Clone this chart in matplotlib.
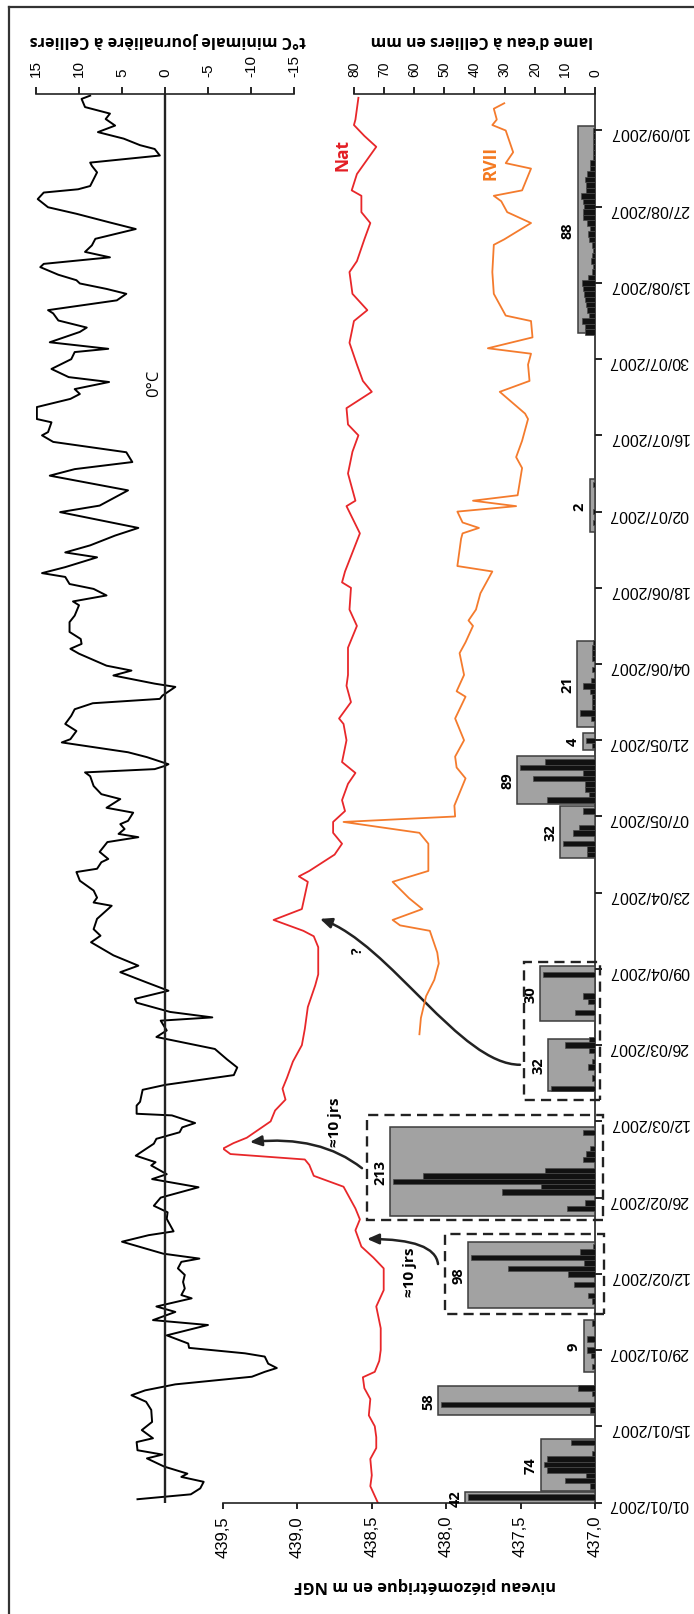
import datetime as dt
import matplotlib
matplotlib.use('Agg')
import matplotlib.pyplot as plt
from matplotlib.patches import Rectangle, FancyArrowPatch
from matplotlib.path import Path
from matplotlib.lines import Line2D

plt.rcParams['font.family'] = ['Liberation Sans', 'DejaVu Sans']
plt.rcParams['axes.unicode_minus'] = False

# ---- data (days counted from 01/01/2007) ----
date_labels = ['01/01/2007', '15/01/2007', '29/01/2007', '12/02/2007', '26/02/2007',
               '12/03/2007', '26/03/2007', '09/04/2007', '23/04/2007', '07/05/2007',
               '21/05/2007', '04/06/2007', '18/06/2007', '02/07/2007', '16/07/2007',
               '30/07/2007', '13/08/2007', '27/08/2007', '10/09/2007']

temp_day = [0.6, 1.5, 2.6, 3.8, 4.7, 5.3, 6.6, 8.1, 8.8, 9.6, 11.1, 11.8, 13.3, 14.8, 17, 18.5,
            19.7, 20.6, 21.7, 23.1, 24, 24.7, 25.5, 26.8, 27.4, 28.4, 29.2, 30.7, 32.6, 33.5,
            35, 36, 37.5, 38.1, 39.3, 40.5, 41.8, 43, 44.2, 44.8, 45.7, 47.9, 49.1, 49.8,
            52.1, 53.3, 54.5, 56.0, 57.9, 59.4, 60.3, 61.9, 62.5, 63.7, 65.9, 66.8, 68.0,
            68.9, 69.7, 71.1, 71.4, 72.9, 73.6, 75.8, 76.7, 78.5, 79.9, 81.4, 83.3, 85.5,
            86.7, 88.5, 89.1, 90.1, 91.8, 92.5, 94.0, 95.5, 97.4, 98.6, 100.5, 102.9, 104.1,
            105.3, 107.2, 109.6, 110.2, 111.1, 112.4, 114.2, 115.8, 116.4, 117.6, 118.2,
            119.5, 121.3, 122.2, 122.8, 123.7, 124.6, 125.2, 126.7, 127.6, 129.2, 130.1,
            131.6, 133.4, 134.1, 134.7, 135.3, 135.6, 136.9, 137.8, 139.6, 140.2, 141.7,
            143.0, 144.5, 145.7, 146.8, 147.6, 148.2, 149.8, 150.4, 151.9, 152.8, 153.7,
            155.9, 156.8, 157.7, 158.6, 159.9, 161.7, 162.9, 164.8, 165.5, 166.6, 167.8,
            168.7, 170.0, 170.7, 171.8, 173.6, 174.5, 175.8, 177.6, 179.0, 179.8, 181.9,
            183.1, 185.9, 188.6, 189.8, 191.1, 192.9, 194.8, 196.0, 196.6, 198.4, 199.0,
            201.2, 202.7, 203.6, 204.5, 205.8, 206.7, 208.2, 210.0, 211.3, 211.9, 213.1,
            215.0, 215.8, 217.1, 218.4, 219.0, 220.8, 222.0, 222.9, 223.9, 224.5, 225.5,
            226.9, 227.5, 228.7, 229.7, 230.9, 232.1, 233.9, 235.1, 236.7, 237.9, 239.4,
            240.6, 241.2, 241.8, 244.3, 245.5, 246.1, 247.4, 248.6, 249.3, 250.5, 251.7,
            252.9, 254.1, 255.1, 256.3, 257.8, 258.4]
temp_val = [3.2, -3.0, -4.1, -4.5, -1.9, -2.6, 0.1, 2.1, 0.3, 3.2, 3.3, 1.4, 2.7, 1.5, 1.6, 2.2,
            3.9, 2.3, -1.2, -10.1, -11.6, -13.0, -12.0, -11.6, -9.3, -2.8, -2.7, -0.2, -5.0, 1.4,
            -1.2, 1.0, -3.1, -1.9, -2.3, -2.1, -2.3, -1.5, -1.9, -4.0, 0.2, 5.0, 1.9, -1.0,
            -0.2, -0.3, 1.3, 0.5, -3.9, 1.5, -0.2, 1.6, 1.1, 3.4, 1.3, 1.0, -1.7,
            -2.0, -3.5, -0.8, 3.3, 3.3, 2.9, 2.6, 0.0, -8.0, -8.4, -7.2, -5.8, 1.0,
            -0.2, 0.5, -5.5, -0.6, 3.3, 3.5, -0.4, 2.1, 5.2, 3.1, 6.0, 8.6, 7.5,
            8.3, 7.9, 6.2, 8.3, 7.9, 8.3, 9.9, 10.3, 7.9, 7.4, 6.6,
            7.6, 6.7, 3.1, 5.4, 4.7, 5.2, 4.3, 3.7, 6.8, 5.2, 7.4,
            8.3, 8.7, 9.3, 1.2, 0.0, -0.4, 2.1, 4.3, 12.0, 11.0, 10.3,
            11.6, 10.9, 10.5, 8.4, 0.6, 0.3, -1.2, 1.2, 6.0, 3.9, 6.8,
            10.0, 11.0, 9.7, 9.8, 11.1, 11.1, 10.5, 10.0, 10.7, 6.8, 8.3,
            11.1, 11.6, 14.3, 11.6, 7.9, 11.6, 8.7, 5.8, 3.1, 5.6, 12.2,
            7.6, 4.3, 13.4, 10.5, 3.8, 4.5, 13.0, 14.3, 13.6, 13.2, 14.9,
            14.9, 11.0, 9.9, 10.5, 6.5, 11.2, 13.2, 10.9, 10.5, 6.6, 13.4,
            9.9, 9.1, 12.4, 13.0, 13.6, 5.6, 4.5, 6.8, 9.9, 10.3, 12.4,
            14.5, 14.1, 6.4, 9.3, 8.5, 8.1, 3.4, 6.4, 10.3, 13.6, 14.8,
            14.1, 10.1, 8.7, 7.9, 8.5, 8.7, 0.6, 1.2, 2.9, 4.8, 7.8,
            5.8, 6.9, 6.4, 9.3, 9.7, 8.7]

nat_day = [0, 3, 5, 8, 10, 12, 14, 16, 19, 21, 23, 24, 26, 28, 32, 36, 39, 43, 45, 47, 50, 52,
           54, 57, 58, 60, 62, 63, 64, 65, 66, 67, 70, 72, 74, 76, 78, 81, 84, 87, 91, 95, 97,
           102, 104, 105, 107, 109, 114, 115, 116, 119, 121, 123, 125, 127, 129, 132, 134, 136,
           140, 143, 144, 147, 150, 152, 157, 161, 164, 168, 169, 171, 178, 183, 184, 189, 193,
           196, 198, 201, 204, 206, 209, 213, 217, 219, 222, 226, 228, 232, 235, 237, 240, 241,
           244, 249, 251, 253, 254, 258]
nat_val = [438.46, 438.51, 438.50, 438.51, 438.47, 438.47, 438.48, 438.52, 438.51, 438.55, 438.56,
           438.48, 438.45, 438.44, 438.44, 438.47, 438.42, 438.42, 438.49, 438.57, 438.61, 438.58,
           438.61, 438.67, 438.69, 438.89, 438.92, 438.95, 439.45, 439.50, 439.43, 439.34, 439.18,
           439.15, 439.08, 439.10, 439.07, 439.03, 438.97, 438.95, 438.93, 438.88, 438.86,
           438.86, 438.89, 438.96, 439.16, 438.97, 438.93, 438.99, 438.92, 438.75, 438.70, 438.76,
           438.76, 438.68, 438.70, 438.66, 438.61, 438.70, 438.67, 438.69, 438.72, 438.64, 438.67,
           438.66, 438.66, 438.60, 438.65, 438.64, 438.70, 438.68, 438.58, 438.67, 438.61, 438.66,
           438.63, 438.59, 438.66, 438.67, 438.50, 438.56, 438.60, 438.65, 438.62, 438.53, 438.63,
           438.65, 438.60, 438.55, 438.51, 438.57, 438.57, 438.635, 438.60, 438.47, 438.55,
           438.62, 438.61, 438.59]

rv_day = [86, 89, 93, 96, 99, 101, 105, 106, 107, 109, 111, 114, 116, 121, 123, 125, 126, 128,
          133, 135, 137, 140, 142, 144, 148, 149, 152, 156, 158, 161, 162, 164, 167, 169, 171,
          172, 177, 178, 179, 180, 182, 183, 184, 185, 190, 192, 195, 199, 200, 204, 206, 209,
          211, 212, 214, 217, 218, 219, 222, 226, 231, 232, 235, 237, 239, 240, 241, 245, 246,
          248, 252, 253, 254, 256, 257]
rv_val = [438.18, 438.17, 438.135, 438.08, 438.05, 438.06, 438.11, 438.31, 438.36, 438.16, 438.25,
          438.36, 438.12, 438.12, 438.18, 438.69, 437.94, 437.945, 437.87, 437.93, 437.94, 437.88,
          437.91, 437.94, 437.87, 437.93, 437.88, 437.91, 437.87, 437.82, 437.85, 437.80, 437.77,
          437.73, 437.69, 437.925, 437.90, 437.89, 437.78, 437.89, 437.925, 437.53, 437.82,
          437.52, 437.49, 437.53, 437.49, 437.45, 437.47, 437.64, 437.44, 437.45, 437.43, 437.72,
          437.42, 437.43, 437.60, 437.62, 437.68, 437.69, 437.68, 437.61, 437.43, 437.59, 437.63,
          437.68, 437.49, 437.43, 437.60, 437.55, 437.60, 437.69, 437.66, 437.68, 437.61]

rain_day = [1, 3, 4, 5, 6, 7, 8, 9, 11, 17, 18, 20, 21, 25, 27, 28, 30, 33,
            37, 38, 40, 42, 43, 44, 45, 46, 47,
            54, 55, 57, 58, 59, 60, 61, 63, 64, 65, 68,
            76, 78, 80, 81, 83, 84, 85, 90, 92, 93, 97,
            119, 120, 121, 123, 124, 127, 129, 130, 131, 132, 133, 134, 135, 136,
            139, 140, 144, 145, 146, 147, 148, 149, 150, 151, 153, 155, 156, 157, 158,
            180, 182, 187,
            215, 216, 217, 218, 219, 220, 221, 222, 223, 224, 225, 226, 227, 228, 229, 230,
            231, 232, 233, 234, 235, 236, 237, 238, 239, 240, 241, 242, 243, 244, 245, 246,
            247, 248, 249, 250, 251, 252]
rain_mm = [42, 1.5, 10, 3, 16, 17, 16, 1, 8, 1.5, 51, 1, 5.5, 1.1, 1.4, 2.8, 2.8, 1.1,
           1, 2.4, 7, 9, 29, 3.5, 41, 5, 0.8,
           9.4, 3.3, 31, 18, 67, 57, 16.7, 4, 3, 1.5, 4,
           14.6, 1, 2.2, 1, 1.9, 10, 2, 6.7, 2.2, 4, 17.3,
           2.8, 2.8, 10.6, 7.4, 5.3, 4, 15.8, 2, 3.3, 3.3, 20.5, 4, 24.9, 16.6,
           1, 3, 1.3, 5, 1, 1, 1, 1.6, 3.9, 1.2, 1, 1, 1, 1, 0.8,
           0.5, 0.8, 0.7,
           3.3, 3.3, 4.4, 2.0, 2.8, 3.0, 3.3, 3.5, 4.0, 4.2, 2.2, 1.0, 0.8, 1.2, 1.0, 0.8,
           1.0, 2.0, 2.2, 1.8, 2.5, 4.0, 4.0, 3.5, 4.0, 4.8, 3.0, 3.0, 3.2, 2.8, 1.5, 1.5,
           0.8, 0.5, 0.5, 0.5, 0.5, 0.5]

ev_start = [0.0, 2.1, 16.0, 24.0, 35.7, 52.6, 75.6, 88.5, 118.4, 128.3, 138.3, 142.5, 178.3, 214.8]
ev_end = [1.9, 11.7, 21.4, 33.6, 47.9, 69.0, 85.2, 98.6, 128.0, 137.1, 141.4, 158.3, 188.0, 252.9]
ev_total = [42, 74, 58, 9, 98, 213, 32, 30, 32, 89, 4, 21, 2, 88]

date_ticks = [(dt.datetime.strptime(d, '%d/%m/%Y') - dt.datetime(2007, 1, 1)).days for d in date_labels]
ymax = 258.7

# ---- figure ----
W, H = 694, 1615
fig = plt.figure(figsize=(W / 100, H / 100), dpi=100)
bot = (H - 1503.5) / H
hgt = (1503.5 - 95) / H

ax_t = fig.add_axes([36 / W, bot, 258 / W, hgt])
ax_p = fig.add_axes([223 / W, bot, 372 / W, hgt])
ax_r = fig.add_axes([354 / W, bot, 241 / W, hgt])
for ax in (ax_t, ax_p, ax_r):
    ax.patch.set_visible(False)
    ax.set_ylim(0, ymax)
    for s in ax.spines.values():
        s.set_visible(False)
        s.set_linewidth(1.2)
        s.set_color('#222222')

# temperature
ax_t.set_xlim(15, -15)
ax_t.plot(temp_val, temp_day, color='black', lw=1.4)
ax_t.axvline(0, color='#222222', lw=1.7)
ax_t.spines['top'].set_visible(True)
ax_t.set_xticks([15, 10, 5, 0, -5, -10, -15])
ax_t.set_xticklabels(['15', '10', '5', '0', '-5', '-10', '-15'])
ax_t.tick_params(axis='x', top=True, bottom=False, labeltop=True, labelbottom=False,
                 direction='out', length=5, width=1.2, pad=8, labelrotation=90, labelsize=11)
ax_t.set_yticks([])
ax_t.annotate('0°C', (0, 205.8), xytext=(-2, 0), textcoords='offset points', rotation=90,
              ha='right', va='center', fontsize=12, family=['Open Sans', 'DejaVu Sans'])

# piezometric levels
ax_p.set_xlim(439.5, 437.0)
ax_p.plot(nat_val, nat_day, color='#e8272a', lw=1.3)
ax_p.plot(rv_val, rv_day, color='#f47b2d', lw=1.3)
ax_p.spines['bottom'].set_visible(True)
ax_p.spines['right'].set_visible(True)
ax_p.set_xticks([439.5, 439.0, 438.5, 438.0, 437.5, 437.0])
ax_p.set_xticklabels(['439,5', '439,0', '438,5', '438,0', '437,5', '437,0'])
ax_p.tick_params(axis='x', direction='out', length=4, width=1.2, pad=5, labelrotation=90, labelsize=12)
ax_p.yaxis.tick_right()
ax_p.set_yticks(date_ticks)
ax_p.set_yticklabels(date_labels)
ax_p.tick_params(axis='y', direction='out', length=5, width=1.2, pad=5, labelrotation=180, labelsize=11.5)

bold = dict(family=['Open Sans', 'DejaVu Sans'], fontweight='bold')
ax_p.text(438.70, 247.7, 'Nat', color='#e31e24', rotation=90, ha='center', va='center', fontsize=12.5, **bold)
ax_p.text(437.70, 246.2, 'RVII', color='#f47920', rotation=90, ha='center', va='center', fontsize=12.5, **bold)

# rainfall
ax_r.set_xlim(80, 0)
ax_r.spines['top'].set_visible(True)
ax_r.set_xticks(list(range(80, -1, -10)))
ax_r.tick_params(axis='x', top=True, bottom=False, labeltop=True, labelbottom=False,
                 direction='out', length=5, width=1.2, pad=8, labelrotation=90, labelsize=10)
ax_r.set_yticks([])
for s, e, tot in zip(ev_start, ev_end, ev_total):
    peak = max(v for d, v in zip(rain_day, rain_mm) if s <= d <= e)
    ax_r.add_patch(Rectangle((0, s), peak + 1, e - s, facecolor='#a2a2a2',
                             edgecolor='#3d3d3d', lw=1.1, zorder=1))
    ax_r.annotate(str(tot), (peak + 1, (s + e) / 2), xytext=(-2, 0), textcoords='offset points',
                  rotation=90, ha='right', va='center', fontsize=10.5, **bold)
ax_r.barh(rain_day, rain_mm, height=1.0, color='#111111', edgecolor='#4a4a4a', lw=0.5, zorder=2)

# dashed groupings (mm left, mm right, day low, day high)
groups = [(49.8, -3.0, 34.6, 49.3), (75.7, -2.7, 51.9, 71.2), (23.6, -1.7, 74.0, 99.3)]
for x0, x1, y0, y1 in groups:
    ax_r.add_patch(Rectangle((x1, y0), x0 - x1, y1 - y0, fill=False, edgecolor='#222222',
                             lw=1.7, linestyle=(0, (4.3, 2.6)), clip_on=False, zorder=3))

# arrows (in piezo coordinates)
arrow_kw = dict(arrowstyle='-|>,head_length=0.5,head_width=0.22', mutation_scale=14,
                color='#222222', lw=1.8, transform=ax_p.transData, clip_on=False)
paths = [
    Path([(438.055, 43.8), (438.075, 48.4), (438.532, 48.4)],
         [Path.MOVETO, Path.CURVE3, Path.CURVE3]),
    Path([(438.566, 61.4), (438.848, 67.5), (439.319, 66.2)],
         [Path.MOVETO, Path.CURVE3, Path.CURVE3]),
    Path([(437.504, 80.4), (437.907, 80.4), (438.377, 102.6), (438.848, 107.2)],
         [Path.MOVETO, Path.CURVE4, Path.CURVE4, Path.CURVE4]),
]
for p in paths:
    ax_p.add_patch(FancyArrowPatch(path=p, **arrow_kw))
ax_p.text(438.243, 42.5, '≈10 jrs', rotation=90, ha='center', va='center', fontsize=11, **bold)
ax_p.text(438.747, 70.1, '≈10 jrs', rotation=90, ha='center', va='center', fontsize=11, **bold)
ax_p.text(438.593, 101.5, '?', rotation=90, ha='center', va='center', fontsize=10, **bold)

# axis titles
fig.text(167.5 / W, 1 - 40 / H, 't°C minimale journalière à Celliers', rotation=180,
         ha='center', va='center', fontsize=11.6, **bold)
fig.text(482 / W, 1 - 40 / H, "lame d'eau à Celliers en mm", rotation=180,
         ha='center', va='center', fontsize=11.4, **bold)
fig.text(425 / W, 1 - 1585 / H, 'niveau piézométrique en m NGF', rotation=180,
         ha='center', va='center', fontsize=11.8, **bold)

# outer frame
fig.add_artist(Line2D([9 / W, 9 / W], [0, 1 - 8 / H], transform=fig.transFigure, color='#333333', lw=1.6))
fig.add_artist(Line2D([9 / W, 1], [1 - 8 / H, 1 - 8 / H], transform=fig.transFigure, color='#333333', lw=1.6))

fig.savefig('out.png', dpi=100)
